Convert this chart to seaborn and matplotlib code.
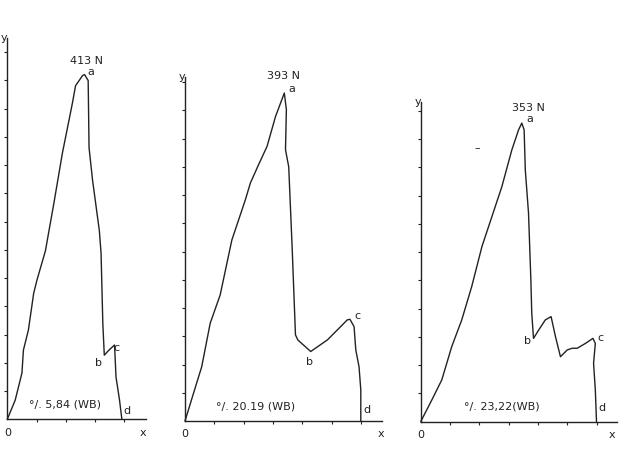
import pandas as pd
import matplotlib
matplotlib.use("Agg")
import matplotlib.pyplot as plt
import seaborn as sns

sns.set_style("white")
plt.rcParams["font.family"] = ["DejaVu Sans"]

ink = "#222222"

# curve values in tick units (x: displacement ticks, y: force ticks)
x1 = [0, 0.27, 0.50, 0.55, 0.72, 0.90, 1.01, 1.30, 1.59, 1.88, 2.22, 2.33, 2.57, 2.64, 2.76, 2.79,
      2.91, 3.14, 3.20, 3.26, 3.31, 3.47, 3.66, 3.71, 3.83, 3.91]
y1 = [0, 0.68, 1.64, 2.45, 3.16, 4.46, 4.92, 5.96, 7.65, 9.42, 11.18, 11.81, 12.17, 12.20, 11.99, 9.62,
      8.46, 6.69, 5.88, 3.40, 2.27, 2.45, 2.63, 1.50, 0.68, 0]

x2 = [0, 0.29, 0.57, 0.86, 1.20, 1.60, 2.06, 2.23, 2.51, 2.80, 3.09, 3.26, 3.39, 3.46, 3.43, 3.54,
      3.66, 3.77, 3.85, 4.29, 4.86, 5.54, 5.63, 5.77, 5.83, 5.94, 6.00, 6.00]
y2 = [0, 0.98, 1.92, 3.46, 4.46, 6.41, 7.83, 8.42, 9.07, 9.72, 10.78, 11.25, 11.61, 11.02, 9.60, 9.00,
      6.06, 3.05, 2.87, 2.46, 2.87, 3.58, 3.60, 3.34, 2.51, 1.92, 1.10, 0]

x3 = [0, 0.38, 0.72, 1.06, 1.40, 1.74, 2.09, 2.43, 2.77, 3.11, 3.34, 3.45, 3.53, 3.57, 3.68, 3.76,
      3.79, 3.85, 4.03, 4.25, 4.45, 4.60, 4.77, 5.00, 5.17, 5.34, 5.62, 5.88, 5.96, 5.90, 5.96, 6.00]
y3 = [0, 0.77, 1.48, 2.66, 3.60, 4.78, 6.20, 7.26, 8.32, 9.62, 10.33, 10.57, 10.33, 8.91, 7.38, 5.02,
      3.84, 2.95, 3.25, 3.60, 3.72, 3.01, 2.30, 2.54, 2.60, 2.60, 2.77, 2.95, 2.77, 2.07, 1.12, 0]

peaks = ["413 N", "393 N", "353 N"]
moisture = ["°/. 5,84 (WB)", "°/. 20.19 (WB)", "°/. 23,22(WB)"]

panels = [
    dict(x=x1, y=y1, origin=(7.3, 419.3), xmax=4.75, ymax=13.5, nx=4, ny=13,
         peak=(2.71, 12.7), a=(2.84, 12.28), b=(3.10, 1.99), c=(3.74, 2.52), d=(4.10, 0.12),
         m=(1.96, 0.33), xl=4.62),
    dict(x=x2, y=y2, origin=(185.0, 421.0), xmax=6.74, ymax=12.16, nx=6, ny=12,
         peak=(3.37, 12.2), a=(3.65, 11.74), b=(4.26, 2.10), c=(5.88, 3.70), d=(6.22, 0.21),
         m=(2.40, 0.33), xl=6.68),
    dict(x=x3, y=y3, origin=(420.7, 421.7), xmax=6.71, ymax=11.3, nx=6, ny=11,
         peak=(3.68, 11.11), a=(3.72, 10.72), b=(3.63, 2.84), c=(6.14, 2.96), d=(6.20, 0.30),
         m=(2.77, 0.35), xl=6.54),
]

W, H = 630, 459
sx, sy = 29.3, 28.25  # pixels per tick unit

fig = plt.figure(figsize=(6.3, 4.59), dpi=100)
fs = 8

for i, p in enumerate(panels):
    ox, oy = p["origin"]
    ax = fig.add_axes([ox / W, (H - oy) / H, p["xmax"] * sx / W, p["ymax"] * sy / H])
    df = pd.DataFrame({"x": p["x"], "y": p["y"]})
    sns.lineplot(data=df, x="x", y="y", sort=False, estimator=None, color=ink, lw=1.0, ax=ax)
    for line in ax.lines:
        line.set_clip_on(False)
    ax.set_xlim(0, p["xmax"])
    ax.set_ylim(0, p["ymax"])
    ax.set_xticks(range(1, p["nx"] + 1))
    ax.set_yticks(range(1, p["ny"] + 1))
    ax.set_xticklabels([])
    ax.set_yticklabels([])
    ax.tick_params(direction="out", length=2.5, width=0.8, colors=ink, bottom=True, left=True)
    ax.set_xlabel("")
    ax.set_ylabel("")
    ax.patch.set_alpha(0)
    sns.despine(ax=ax)
    for s in ["left", "bottom"]:
        ax.spines[s].set_color(ink)
        ax.spines[s].set_linewidth(1.0)

    kw = dict(fontsize=fs, color=ink, clip_on=False)
    ax.text(*p["peak"], peaks[i], ha="center", va="center", **kw)
    ax.text(*p["a"], "a", ha="center", va="center", **kw)
    ax.text(*p["b"], "b", ha="center", va="center", **kw)
    ax.text(*p["c"], "c", ha="center", va="center", **kw)
    ax.text(*p["d"], "d", ha="center", va="bottom", **kw)
    ax.text(*p["m"], moisture[i], ha="center", va="bottom", **kw)
    ax.text(0, -0.3, "0", ha="center", va="top", **kw)
    ax.text(p["xl"], -0.3, "x", ha="center", va="top", **kw)
    ax.text(-0.1, p["ymax"], "y", ha="center", va="center", **kw)
    if i == 2:
        ax.text(1.92, 9.7, "–", ha="center", va="center", **kw)

fig.savefig("out.png", dpi=100, facecolor="white")
